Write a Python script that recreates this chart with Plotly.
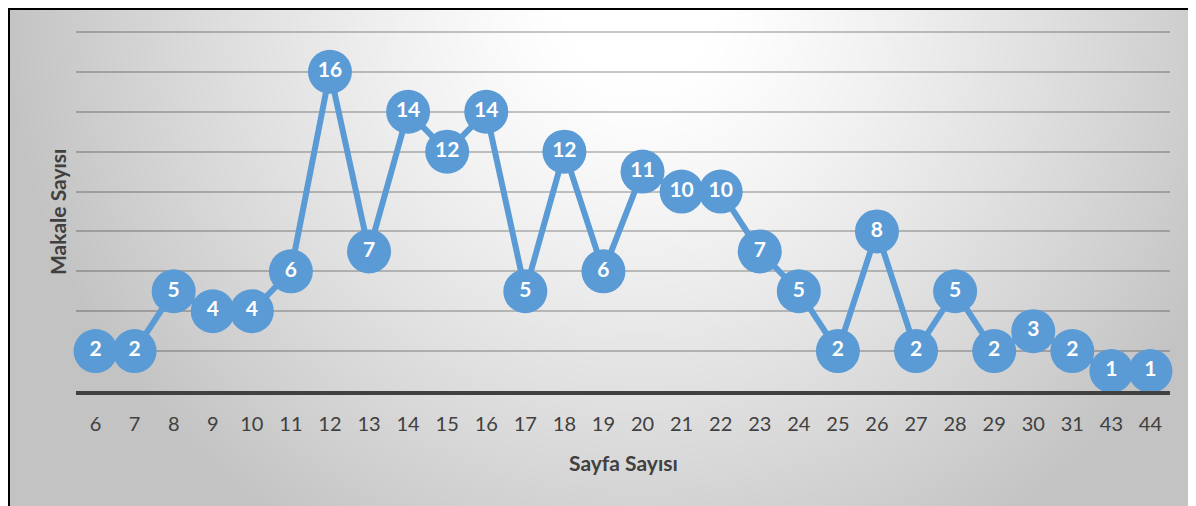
import base64, struct, zlib
import numpy as np
import plotly.graph_objects as go

# ---- data ----
pages = ["6", "7", "8", "9", "10", "11", "12", "13", "14", "15", "16", "17", "18", "19",
         "20", "21", "22", "23", "24", "25", "26", "27", "28", "29", "30", "31", "43", "44"]
articles = [2, 2, 5, 4, 4, 6, 16, 7, 14, 12, 14, 5, 12, 6,
            11, 10, 10, 7, 5, 2, 8, 2, 5, 2, 3, 2, 1, 1]
y_ticks = [2, 4, 6, 8, 10, 12, 14, 16, 18]
x_title = "Sayfa Sayısı"
y_title = "Makale Sayısı"

OFF = 8  # page body margin
W, H = 1196 - OFF, 506 - OFF
YMAX = 18.3
# plot area in page pixels: x 76..1170, y 26..391 (18 -> y=32)
L, R, T, B = 76 - OFF, W - (1170 - OFF), 26 - OFF, H - (391 - OFF)
PW, PH = W - L - R, H - T - B


# ---- radial gradient background as PNG data URI ----
def gradient_png(w, h):
    yy, xx = np.mgrid[0:h, 0:w].astype(float)
    xx += OFF
    yy += OFF
    d = np.sqrt((xx - 640) ** 2 + (yy - 0) ** 2)
    t = np.clip((d - 80) / 560.0, 0, 1)
    v = (255 - 60 * t ** 1.2).astype(np.uint8)
    raw = b"".join(b"\x00" + v[i].tobytes() for i in range(h))

    def chunk(tag, data):
        c = struct.pack(">I", len(data)) + tag + data
        return c + struct.pack(">I", zlib.crc32(tag + data) & 0xFFFFFFFF)

    png = b"\x89PNG\r\n\x1a\n"
    png += chunk(b"IHDR", struct.pack(">IIBBBBB", w, h, 8, 0, 0, 0, 0))
    png += chunk(b"IDAT", zlib.compress(raw, 9))
    png += chunk(b"IEND", b"")
    return "data:image/png;base64," + base64.b64encode(png).decode()


bg = gradient_png(W, H)

font = "Lato, 'Open Sans', sans-serif"
blue = "#5B9BD5"


def px_x(p):  # page pixel -> paper
    return (p - OFF - L) / PW


def px_y(p):
    return (H - B - (p - OFF)) / PH


fig = go.Figure()
fig.add_trace(go.Scatter(
    x=pages, y=articles,
    mode="lines+markers+text",
    line=dict(color=blue, width=6),
    marker=dict(color=blue, size=44, line=dict(width=0)),
    text=[str(v) for v in articles],
    textposition="middle center",
    textfont=dict(color="white", size=21, family=font, weight="bold"),
    cliponaxis=False,
    hoverinfo="skip",
))

fig.update_layout(
    width=W, height=H,
    margin=dict(l=L, r=R, t=T, b=B),
    paper_bgcolor="white",
    plot_bgcolor="rgba(0,0,0,0)",
    showlegend=False,
    font=dict(family=font, color="#404040"),
    images=[dict(source=bg, xref="paper", yref="paper",
                 x=-L / PW, y=(H - B) / PH, sizex=W / PW, sizey=H / PH,
                 xanchor="left", yanchor="top", sizing="stretch", layer="below")],
    xaxis=dict(
        type="category", range=[-0.5, len(pages) - 0.5],
        showgrid=False, zeroline=False,
        showline=True, linecolor="#404040", linewidth=4,
        ticks="", tickfont=dict(size=20, color="#404040", family=font),
        ticklabelstandoff=12,
    ),
    yaxis=dict(
        range=[0, YMAX], tickvals=y_ticks, showticklabels=False,
        showgrid=True, gridcolor="rgba(0,0,0,0.22)", gridwidth=2,
        zeroline=False, showline=False, ticks="",
    ),
    annotations=[
        dict(text=f"<b>{x_title}</b>", xref="paper", yref="paper",
             x=px_x(623), y=px_y(462), xanchor="center", yanchor="middle",
             showarrow=False, font=dict(size=21, color="#404040", family=font)),
        dict(text=f"<b>{y_title}</b>", xref="paper", yref="paper",
             x=px_x(57), y=px_y(212), xanchor="center", yanchor="middle",
             textangle=-90, showarrow=False,
             font=dict(size=21, color="#404040", family=font)),
    ],
    shapes=[
        dict(type="line", xref="paper", yref="paper",
             x0=px_x(8), x1=px_x(1196 + 10), y0=px_y(9), y1=px_y(9),
             line=dict(color="black", width=2)),
        dict(type="line", xref="paper", yref="paper",
             x0=px_x(9), x1=px_x(9), y0=px_y(8), y1=px_y(506 + 10),
             line=dict(color="black", width=2)),
    ],
)

fig.write_html("out.html")
